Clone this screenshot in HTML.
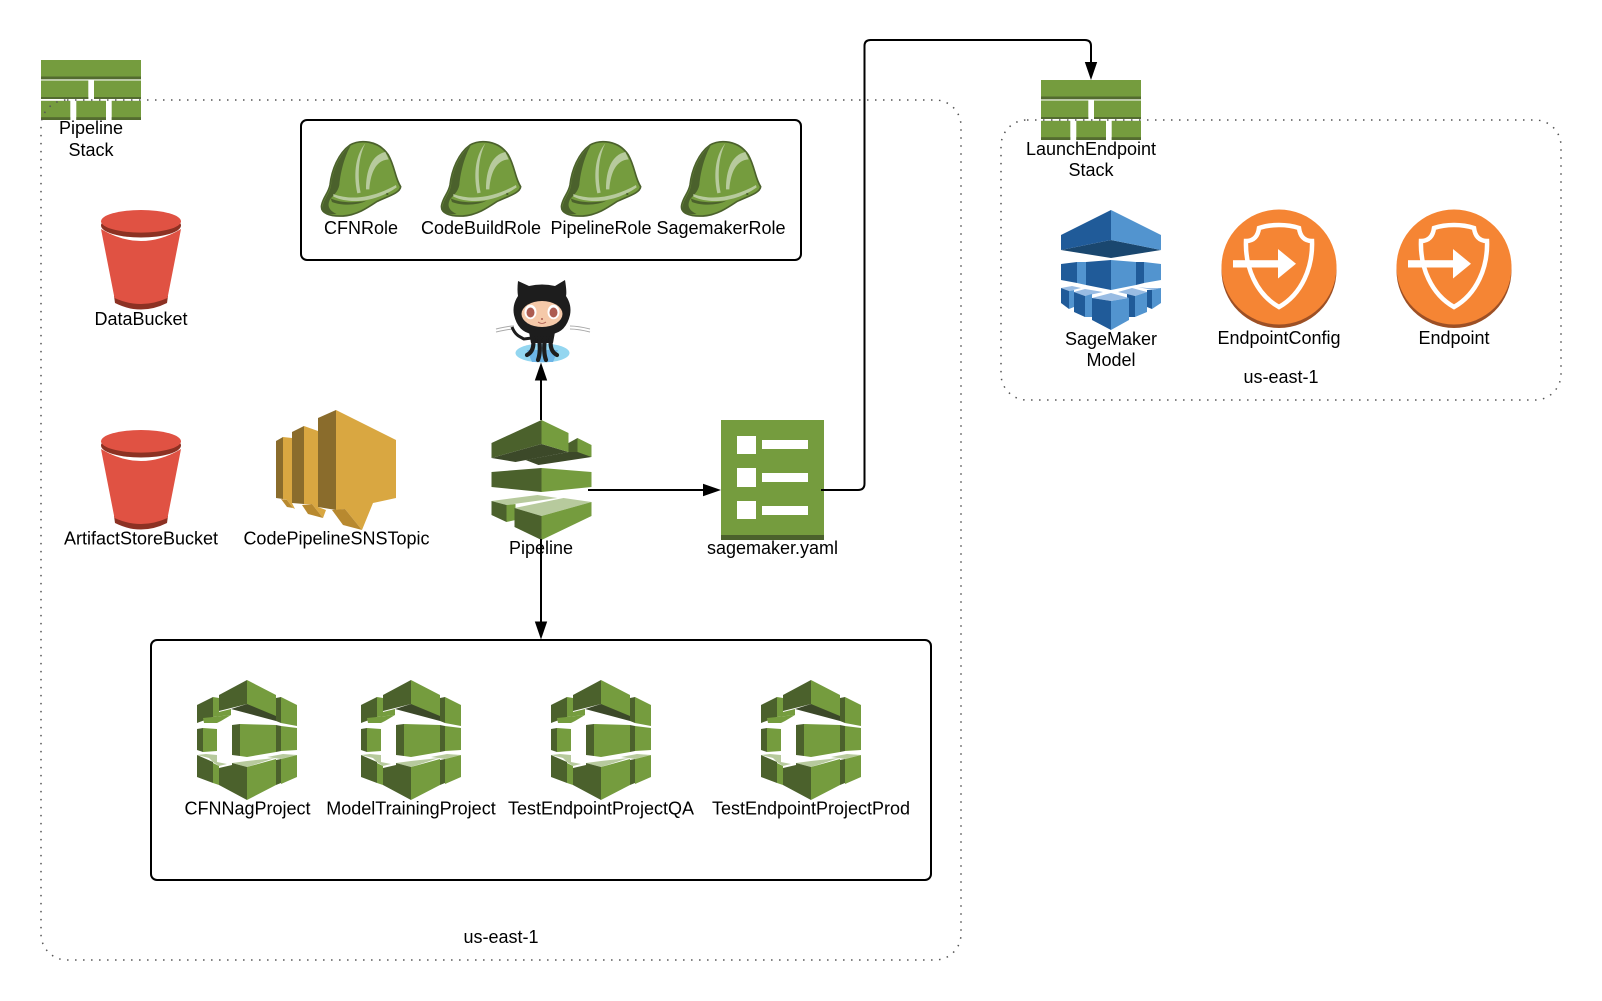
<!DOCTYPE html>
<html>
<head>
<meta charset="utf-8">
<title>Pipeline diagram</title>
<style>
html,body{margin:0;padding:0;background:#fff}
svg{display:block;filter:blur(.35px)}
text{font-family:"Liberation Sans",sans-serif;font-size:18px;fill:#000;text-anchor:middle}
</style>
</head>
<body>
<svg width="1602" height="1001" viewBox="0 0 1602 1001" xmlns="http://www.w3.org/2000/svg">
<defs>
<g id="stack">
  <rect x="0" y="0" width="100" height="19.3" fill="#759c3e"/><rect x="0" y="16.5" width="100" height="2.8" fill="#536b30"/>
  <rect x="0" y="20.5" width="47.3" height="18.5" fill="#759c3e"/><rect x="0" y="37" width="47.3" height="2" fill="#536b30"/>
  <rect x="53" y="20.5" width="47" height="18.5" fill="#759c3e"/><rect x="53" y="37" width="47" height="2" fill="#536b30"/>
  <rect x="0" y="40.8" width="29.3" height="19.2" fill="#759c3e"/><rect x="0" y="57.2" width="29.3" height="2.8" fill="#536b30"/>
  <rect x="35.3" y="40.8" width="29.7" height="19.2" fill="#759c3e"/><rect x="35.3" y="57.2" width="29.7" height="2.8" fill="#536b30"/>
  <rect x="70.7" y="40.8" width="29.3" height="19.2" fill="#759c3e"/><rect x="70.7" y="57.2" width="29.3" height="2.8" fill="#536b30"/>
</g>
<g id="bucket">
  <path d="M13,86 L14,93 Q40,106 66,93 L67,86 Z" fill="#8c3123"/>
  <path d="M0,19 L13.5,88 Q40,100 66.5,88 L80,19 Q40,43 0,19 Z" fill="#e05243"/>
  <ellipse cx="40" cy="15.5" rx="40" ry="12" fill="#8c3123"/>
  <ellipse cx="40" cy="11.3" rx="40" ry="11.3" fill="#e05243"/>
</g>
<g id="hat" transform="scale(.3333)">
  <path d="M35,225 C40,200 55,190 60,165 C65,120 85,70 120,45 C150,28 205,30 235,75 C255,110 255,145 272,170 C270,190 230,200 200,215 C170,235 140,255 100,258 C60,260 30,250 35,225 Z" fill="#759c3e" stroke="#4b612c" stroke-width="5"/>
  <path d="M38,228 C43,202 58,192 63,166 C68,122 88,72 122,47 C106,75 92,120 88,165 C84,185 72,195 62,205 C50,225 55,240 80,252 C55,254 33,248 38,228 Z" fill="#4b612c"/>
  <path d="M62,205 C90,218 130,220 170,212 C145,226 95,228 66,216 Z" fill="#4b612c"/>
  <path d="M166,40 C140,70 128,125 142,190 L152,188 C140,130 148,75 166,40 Z" fill="#b7ca9d"/>
  <path d="M168,178 C168,120 185,75 226,66 L236,88 C200,90 182,125 178,178 Z" fill="#b7ca9d"/>
  <path d="M70,192 C130,215 200,198 258,165 L260,172 C205,212 125,226 70,200 Z" fill="#b7ca9d"/>
  <circle cx="232" cy="192" r="3.5" fill="#4b612c"/>
</g>
<g id="codebuild">
  <polygon points="50,0 22,15 22,31 50,24" fill="#4b612c"/>
  <polygon points="50,0 79,15 79,37 50,25" fill="#759c3e"/>
  <polygon points="34,29 50,24 79,36 79,41" fill="#3c4929"/>
  <polygon points="79,18 84,17 84,43 79,41" fill="#4b612c"/>
  <polygon points="84,17 100,25 100,46 84,43" fill="#759c3e"/>
  <polygon points="0,25 16,17 16,37 0,43" fill="#4b612c"/>
  <polygon points="16,17 22,18 22,32 34,29 34,35 16,37" fill="#759c3e"/>
  <polygon points="6,38 16,37 34,35 24,41 20,43 7,43" fill="#759c3e"/>
  <polygon points="0,49 6,48 6,72 0,70" fill="#4b612c"/>
  <polygon points="6,48 20,49 20,71 6,72" fill="#759c3e"/>
  <polygon points="35,45 43,44 43,76 35,75" fill="#4b612c"/>
  <polygon points="43,44 79,45 79,72 50,77 43,76" fill="#759c3e"/>
  <polygon points="79,45 84,46 84,71 79,72" fill="#4b612c"/>
  <polygon points="84,46 100,48 100,70 84,71" fill="#759c3e"/>
  <polygon points="0,75 9,74 20,75 20,78 12,78" fill="#b7ca9d"/>
  <polygon points="0,75 16,82 16,103 0,97" fill="#4b612c"/>
  <polygon points="12,78 20,78 20,82 30,84 22,86 16,82" fill="#b7ca9d"/>
  <polygon points="16,83 22,86 22,105 16,103" fill="#759c3e"/>
  <polygon points="35,83 50,81 78,78 50,87" fill="#b7ca9d"/>
  <polygon points="22,88 35,85 35,83 50,87 50,120 22,105" fill="#4b612c"/>
  <polygon points="50,87 79,79 79,105 50,120" fill="#759c3e"/>
  <polygon points="79,80 84,79 84,103 79,105" fill="#4b612c"/>
  <polygon points="84,79 100,75 100,97 84,104" fill="#759c3e"/>
  <polygon points="70,77 86,74 100,75 84,79" fill="#b7ca9d"/>
</g>
<g id="circle">
  <circle cx="0" cy="3.5" r="57.5" fill="#9d5025"/>
  <circle cx="0" cy="0" r="57.5" fill="#f58534"/>
  <path d="M-33,-26 C-25,-26 -21,-31 -20,-39 C-8,-43 8,-43 20,-39 C21,-31 25,-26 33,-26 C34,0 23,27 0,40 C-23,27 -34,0 -33,-26 Z" fill="none" stroke="#fff" stroke-width="4.5"/>
  <rect x="-46" y="-6.8" width="46" height="7.3" fill="#fff"/>
  <polygon points="-1,-18 17,-3.2 -1,11.5" fill="#fff"/>
</g>
</defs>

<!-- Stacks -->
<use href="#stack" x="41" y="60"/>
<use href="#stack" x="1041" y="80"/>

<!-- Boxes -->
<rect x="301" y="120" width="500" height="140" rx="6" ry="6" fill="none" stroke="#000" stroke-width="2"/>
<rect x="151" y="640" width="780" height="240" rx="6" ry="6" fill="none" stroke="#000" stroke-width="2"/>

<!-- Buckets -->
<use href="#bucket" x="101" y="210"/>
<use href="#bucket" x="101" y="430"/>

<!-- Hats -->
<use href="#hat" x="310" y="130"/>
<use href="#hat" x="430" y="130"/>
<use href="#hat" x="550" y="130"/>
<use href="#hat" x="670" y="130"/>

<!-- SNS -->
<g>
  <polygon points="276,441 283,437 283,499 276,498" fill="#8a6c2c"/>
  <polygon points="283,437 292,438 292,503 295,509 293,508 287,500 283,499" fill="#d9a741"/>
  <polygon points="281,499 287,500 293,508 287,507" fill="#b8892f"/>
  <polygon points="292,432 304,426 304,504 292,503" fill="#8a6c2c"/>
  <polygon points="304,426 318,431 318,507 326,510 323,518 312,504 304,504" fill="#d9a741"/>
  <polygon points="302,505 312,504 323,518 308,514" fill="#b8892f"/>
  <polygon points="318,418 336,410 336,510 318,507" fill="#8a6c2c"/>
  <polygon points="336,410 396,440 396,498 373,503 362,530 345,509 336,510" fill="#d9a741"/>
  <polygon points="332,510 345,509 362,530 343,525" fill="#b8892f"/>
</g>

<!-- Pipeline icon -->
<g transform="translate(491.5,420)">
  <polygon points="0,38 50,24 77,32 24,42" fill="#3c4929"/>
  <polygon points="50,0 0,23 0,38 50,24" fill="#4b612c"/>
  <polygon points="50,0 77,13 77,32 50,24" fill="#759c3e"/>
  <polygon points="77,23 86,18 86,33 77,32" fill="#4b612c"/>
  <polygon points="86,18 100,25 100,37 86,34" fill="#759c3e"/>
  <polygon points="34,40 77,32 86,32 100,37 47,45" fill="#3c4929"/>
  <polygon points="0,52 50,48 50,72 0,67" fill="#4b612c"/>
  <polygon points="50,48 100,52 100,67 50,72" fill="#759c3e"/>
  <polygon points="0,81 46,75 66,78 15,85" fill="#b7ca9d"/>
  <polygon points="0,81 15,85 15,102 0,95" fill="#4b612c"/>
  <polygon points="15,85 24,84 24,100 15,102" fill="#759c3e"/>
  <polygon points="23,88 72,78 100,82 50,96" fill="#b7ca9d"/>
  <polygon points="23,88 50,96 50,120 23,107" fill="#4b612c"/>
  <polygon points="50,96 100,82 100,96 50,120" fill="#759c3e"/>
</g>

<!-- Yaml doc -->
<g>
  <rect x="721" y="420" width="103" height="120" fill="#759c3e"/>
  <rect x="721" y="535" width="103" height="5" fill="#4b612c"/>
  <rect x="737" y="436" width="19" height="18" fill="#fff"/>
  <rect x="737" y="468" width="19" height="19" fill="#fff"/>
  <rect x="737" y="501" width="19" height="18" fill="#fff"/>
  <rect x="762" y="440" width="46" height="9" fill="#fff"/>
  <rect x="762" y="473" width="46" height="9" fill="#fff"/>
  <rect x="762" y="506" width="46" height="9" fill="#fff"/>
</g>

<!-- Connector lines -->
<g fill="none" stroke="#000" stroke-width="2">
  <path d="M541,420 L541,378"/>
  <path d="M541,539 L541,624"/>
  <path d="M588,490 L706,490"/>
  <path d="M821,490 L858,490 Q864.5,490 864.5,483.5 L864.5,46 Q864.5,40 870.5,40 L1085,40 Q1091,40 1091,46 L1091,64"/>
</g>
<g fill="#000">
  <polygon points="541,362.5 534.8,380.5 547.2,380.5"/>
  <polygon points="541,639.5 534.8,621.5 547.2,621.5"/>
  <polygon points="721,490 703,483.8 703,496.2"/>
  <polygon points="1091,80 1084.8,62 1097.2,62"/>
</g>

<!-- Octocat -->
<g>
  <path d="M496,332 Q510,329 514,329 M496,329 Q508,326 514,326" fill="none" stroke="#aaa" stroke-width="1"/>
  <path d="M590,332 Q578,329 570,329 M590,329 Q578,326 570,326" fill="none" stroke="#aaa" stroke-width="1"/>
  <ellipse cx="542.5" cy="353" rx="27" ry="9.5" fill="#93d6f0"/>
  <polygon points="527,350 558,350 553,362 532,362" fill="#6cb4e6"/>
  <path d="M512,327 C515,335 520,337 524,339 L532,338" fill="none" stroke="#1d1d1d" stroke-width="3"/>
  <path d="M518,281 L529,286 Q542,283 555,286 L565,280 Q567,292 566,296 Q572,305 570,315 Q566,332 552,334 L532,334 Q518,332 514,315 Q512,305 518,296 Q517,290 518,281 Z" fill="#1d1d1d"/>
  <path d="M529,332 L555,332 L553,343 L531,343 Z" fill="#1d1d1d"/>
  <g fill="none" stroke="#1d1d1d" stroke-width="4.2" stroke-linecap="round">
    <path d="M533,338 Q535,351 527,355"/>
    <path d="M539,338 Q541,352 538,360"/>
    <path d="M545,338 Q543,352 546,360"/>
    <path d="M551,338 Q549,351 557,355"/>
  </g>
  <ellipse cx="542" cy="314" rx="20.5" ry="13" fill="#f5c9a9"/>
  <ellipse cx="530.5" cy="312" rx="6" ry="7.3" fill="#fff"/>
  <ellipse cx="553.5" cy="312" rx="6" ry="7.3" fill="#fff"/>
  <ellipse cx="530.5" cy="312.5" rx="4" ry="5" fill="#ad5c51"/>
  <ellipse cx="553.5" cy="312.5" rx="4" ry="5" fill="#ad5c51"/>
  <circle cx="542" cy="319" r="1" fill="#ad5c51"/>
  <path d="M538,322 Q542,325 546,322" fill="none" stroke="#ad5c51" stroke-width=".8"/>
</g>

<!-- SageMaker -->
<g transform="translate(1061,210)">
  <polygon points="0,40 50,30 100,40 50,48" fill="#1a476f"/>
  <polygon points="50,0 0,25 0,40 50,30" fill="#205b99"/>
  <polygon points="50,0 100,25 100,40 50,30" fill="#5294cf"/>
  <polygon points="0,54 16,52 16,73 0,70" fill="#205b99"/>
  <polygon points="16,52 25,52 25,75 16,73" fill="#5294cf"/>
  <polygon points="75,52 83,52 83,73 75,75" fill="#205b99"/>
  <polygon points="83,52 100,54 100,70 83,73" fill="#5294cf"/>
  <polygon points="25,52 50,50 50,80 25,75" fill="#205b99"/>
  <polygon points="50,50 75,52 75,75 50,80" fill="#5294cf"/>
  <polygon points="0,78 11,76 20,78 8,81" fill="#99bce3"/>
  <polygon points="0,78 8,81 8,99 0,93" fill="#205b99"/>
  <polygon points="8,81 13,80 13,97 8,99" fill="#5294cf"/>
  <polygon points="77,77 86,78 100,78 91,80" fill="#99bce3"/>
  <polygon points="86,80 91,80 91,99 86,97" fill="#205b99"/>
  <polygon points="91,80 100,78 100,93 91,99" fill="#5294cf"/>
  <polygon points="13,82 24,79 42,82 24,86" fill="#99bce3"/>
  <polygon points="13,82 24,86 24,107 13,102" fill="#205b99"/>
  <polygon points="24,86 31,84 31,107 24,107" fill="#5294cf"/>
  <polygon points="57,82 71,78 86,82 74,86" fill="#99bce3"/>
  <polygon points="66,84 74,86 74,107 66,107" fill="#205b99"/>
  <polygon points="74,86 86,82 86,102 74,107" fill="#5294cf"/>
  <polygon points="31,88 50,83 68,88 50,91" fill="#99bce3"/>
  <polygon points="31,88 50,91 50,120 31,110" fill="#205b99"/>
  <polygon points="50,91 68,88 68,110 50,120" fill="#5294cf"/>
</g>

<!-- Endpoint circles -->
<use href="#circle" x="1279" y="267"/>
<use href="#circle" x="1454" y="267"/>

<!-- CodeBuild -->
<use href="#codebuild" x="197" y="680"/>
<use href="#codebuild" x="361" y="680"/>
<use href="#codebuild" x="551" y="680"/>
<use href="#codebuild" x="761" y="680"/>

<!-- Dotted regions -->
<rect x="41" y="100" width="920" height="860" rx="26" ry="26" fill="none" stroke="#555" stroke-width="1.5" stroke-dasharray="1.5 6.5"/>
<rect x="1001" y="120" width="560" height="280" rx="26" ry="26" fill="none" stroke="#555" stroke-width="1.5" stroke-dasharray="1.5 6.5"/>

<!-- Labels -->
<text x="91" y="134">Pipeline</text>
<text x="91" y="156">Stack</text>
<text x="141" y="325">DataBucket</text>
<text x="141" y="544.5">ArtifactStoreBucket</text>
<text x="336.5" y="544.5">CodePipelineSNSTopic</text>
<text x="361" y="234">CFNRole</text>
<text x="481" y="234">CodeBuildRole</text>
<text x="601" y="234">PipelineRole</text>
<text x="721" y="234">SagemakerRole</text>
<text x="541" y="554">Pipeline</text>
<text x="772.5" y="554">sagemaker.yaml</text>
<text x="247.5" y="814.5">CFNNagProject</text>
<text x="411" y="814.5">ModelTrainingProject</text>
<text x="601" y="814.5">TestEndpointProjectQA</text>
<text x="811" y="814.5">TestEndpointProjectProd</text>
<text x="501" y="943">us-east-1</text>
<text x="1091" y="155">LaunchEndpoint</text>
<text x="1091" y="176">Stack</text>
<text x="1111" y="345">SageMaker</text>
<text x="1111" y="366">Model</text>
<text x="1279" y="344">EndpointConfig</text>
<text x="1454" y="344">Endpoint</text>
<text x="1281" y="383">us-east-1</text>
</svg>
</body>
</html>
